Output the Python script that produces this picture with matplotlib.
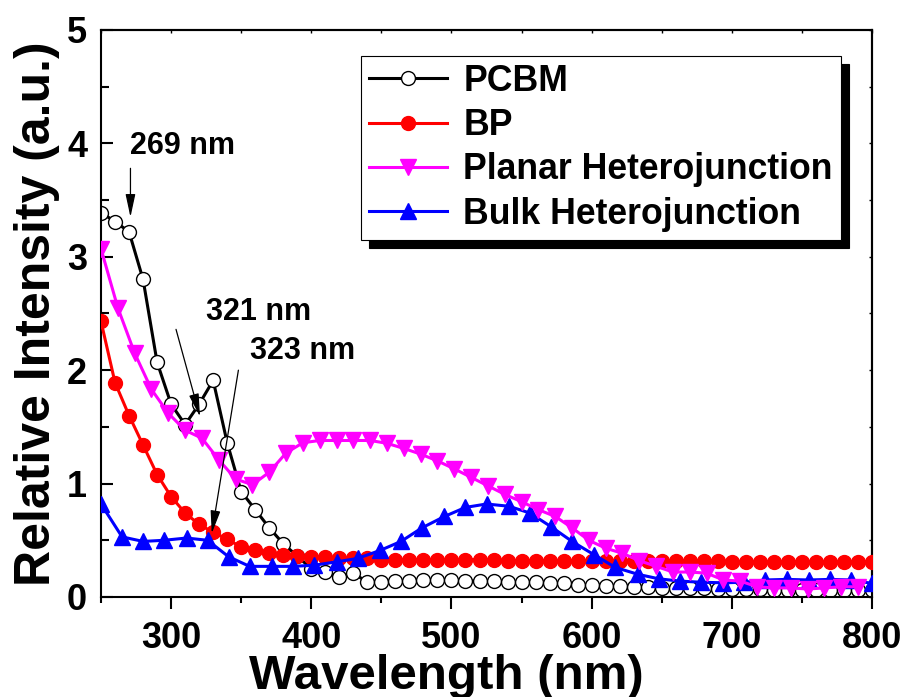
import matplotlib
matplotlib.use('Agg')
import matplotlib.pyplot as plt
import numpy as np
from matplotlib.ticker import MultipleLocator

plt.rcParams.update({
    'font.family': ['Liberation Sans', 'DejaVu Sans'], 'font.weight': 'bold',
    'axes.linewidth': 1.5,
})

# wavelength grids (nm) of the marker points for each curve
pcbm_x = list(range(250, 801, 10))
bp_x = list(range(250, 801, 10))
planar_x = list(range(250, 791, 12))
bulk_x = [250, 265, 280, 295, 311, 326, 341, 356, 372, 387, 402, 418, 433, 449,
          464, 479, 495, 510, 525, 541, 556, 571, 586, 602, 617, 633, 648, 663,
          678, 694, 709, 724, 739, 755, 770, 785, 800]

pcbm_y = [3.39, 3.31, 3.22, 2.80, 2.07, 1.70, 1.52, 1.70, 1.91, 1.36,
          0.93, 0.77, 0.61, 0.47, 0.36, 0.25, 0.22, 0.18, 0.21, 0.13,
          0.13, 0.14, 0.14, 0.15, 0.15, 0.15, 0.14, 0.14, 0.14, 0.13,
          0.13, 0.13, 0.12, 0.12, 0.11, 0.11, 0.10, 0.10, 0.09, 0.09,
          0.08, 0.08, 0.08, 0.08, 0.07, 0.07, 0.07, 0.07, 0.06, 0.06,
          0.06, 0.06, 0.06, 0.06, 0.06, 0.06]
bp_y = [2.43, 1.89, 1.60, 1.34, 1.08, 0.885, 0.74, 0.64, 0.57, 0.51,
        0.44, 0.41, 0.39, 0.37, 0.36, 0.35, 0.35, 0.34, 0.34, 0.34,
        0.33, 0.33, 0.33, 0.33, 0.33, 0.33, 0.33, 0.33, 0.33, 0.32,
        0.32, 0.32, 0.32, 0.32, 0.32, 0.32, 0.32, 0.32, 0.32, 0.32,
        0.32, 0.32, 0.32, 0.32, 0.32, 0.31, 0.31, 0.31, 0.31, 0.31,
        0.31, 0.31, 0.31, 0.31, 0.31, 0.31]
planar_y = [3.07, 2.55, 2.15, 1.83, 1.62, 1.47, 1.40, 1.21, 1.04, 0.99,
            1.10, 1.27, 1.36, 1.38, 1.38, 1.38, 1.38, 1.355, 1.31, 1.26,
            1.20, 1.13, 1.055, 0.98, 0.905, 0.84, 0.77, 0.71, 0.61, 0.50,
            0.43, 0.385, 0.32, 0.27, 0.22, 0.22, 0.21, 0.15, 0.14, 0.09,
            0.08, 0.08, 0.07, 0.08, 0.09, 0.09]
bulk_y = [0.82, 0.53, 0.49, 0.50, 0.52, 0.50, 0.355, 0.27, 0.27, 0.27,
          0.28, 0.31, 0.34, 0.41, 0.49, 0.61, 0.71, 0.79, 0.82, 0.80,
          0.74, 0.62, 0.49, 0.37, 0.26, 0.20, 0.16, 0.14, 0.13, 0.125,
          0.13, 0.15, 0.155, 0.15, 0.155, 0.15, 0.12]

labels = ['PCBM', 'BP', 'Planar Heterojunction', 'Bulk Heterojunction']

fig = plt.figure(figsize=(9.06, 6.97), dpi=100)
ax = fig.add_axes([0.1115, 0.1435, 0.851, 0.8135])

l1, = ax.plot(pcbm_x, pcbm_y, '-o', color='k', lw=2.2, ms=10, mfc='white',
              mec='k', mew=1.0, zorder=2)
l2, = ax.plot(bp_x, bp_y, '-o', color='#ff0000', lw=2.2, ms=10, zorder=3)
l4, = ax.plot(bulk_x, bulk_y, '-^', color='#0000ff', lw=2.2, ms=11, zorder=4)
l3, = ax.plot(planar_x, planar_y, '-v', color='#ff00ff', lw=2.2, ms=11, zorder=5)

ax.set_xlim(250, 800); ax.set_ylim(0, 5)
ax.xaxis.set_major_locator(MultipleLocator(100))
ax.xaxis.set_minor_locator(MultipleLocator(50))
ax.yaxis.set_major_locator(MultipleLocator(1))
ax.yaxis.set_minor_locator(MultipleLocator(0.5))
ax.tick_params(axis='x', which='major', direction='out', length=8.5, width=1.5,
               pad=8.5, labelsize=26)
ax.tick_params(axis='x', which='minor', direction='out', length=4.5, width=1.5)
ax.tick_params(axis='y', which='major', direction='in', length=8.4, width=1.5,
               pad=10, labelsize=26)
ax.tick_params(axis='y', which='minor', direction='in', length=5.5, width=1.5)

# short inward ticks on top and right
top = ax.secondary_xaxis('top')
top.xaxis.set_major_locator(MultipleLocator(50))
top.tick_params(direction='in', length=2, width=1, labeltop=False)
right = ax.secondary_yaxis('right')
right.yaxis.set_major_locator(MultipleLocator(0.5))
right.tick_params(direction='in', length=2, width=1, labelright=False)

ax.set_xlabel('Wavelength (nm)', fontsize=35.5, fontweight='bold', va='baseline')
ax.xaxis.set_label_coords(0.4475, -0.162)
ax.set_ylabel('Relative Intensity (a.u.)', fontsize=36, fontweight='bold')
ax.yaxis.set_label_coords(-0.053, 0.5)

arrow = dict(arrowstyle='-|>,head_length=0.7,head_width=0.15', color='k', lw=0.9,
             shrinkA=0, shrinkB=0, mutation_scale=20)
ax.annotate('', xy=(271, 3.35), xytext=(271, 3.78), arrowprops=arrow, zorder=8)
ax.annotate('', xy=(320.6, 1.59), xytext=(303.5, 2.36), arrowprops=arrow, zorder=8)
ax.annotate('', xy=(329, 0.56), xytext=(348, 2.0), arrowprops=arrow, zorder=8)
ax.text(271, 3.91, '269 nm', fontsize=22, fontweight='bold', va='baseline')
ax.text(325, 2.44, '321 nm', fontsize=22, fontweight='bold', va='baseline')
ax.text(356, 2.10, '323 nm', fontsize=22, fontweight='bold', va='baseline')

leg = ax.legend([l1, l2, l3, l4], labels, loc='upper left',
                bbox_to_anchor=(0.337, 0.954), borderaxespad=0, fontsize=25.7,
                handlelength=2.2, handletextpad=0.45, borderpad=0.22,
                labelspacing=0.26, fancybox=False, framealpha=1,
                edgecolor='k',
                shadow={'ox': 6, 'oy': -6, 'facecolor': 'k', 'edgecolor': 'k',
                        'alpha': 1})
leg.get_frame().set_linewidth(0.8)
leg.set_zorder(10)

fig.savefig('out.png', dpi=100)
